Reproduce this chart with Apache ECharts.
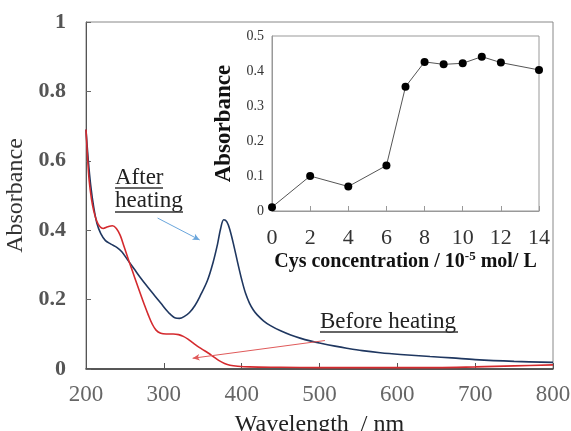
<!DOCTYPE html>
<html>
<head>
<meta charset="utf-8">
<script src="https://cdn.jsdelivr.net/npm/echarts@6/dist/echarts.min.js"></script>
<style>html,body{margin:0;padding:0;background:#fff;}#c{width:571px;height:431px;}</style>
</head>
<body>
<div id="c"></div>
<script>
// Main spectrum: After heating (blue)
var afterWl  = [200,203,206,210,214,219,225,232,240,246,253,262,270,279,288,296,306,315,320,326,333,340,347,356,363,369,373,377,381,385,390,395,400,405,410,415,420,428,437,450,463,475,488,500,520,535,555,578,604,642,670,700,750,800];
var afterAbs = [0.69,0.60,0.53,0.465,0.42,0.39,0.37,0.36,0.35,0.338,0.316,0.288,0.263,0.237,0.212,0.19,0.163,0.147,0.146,0.151,0.163,0.183,0.212,0.255,0.305,0.36,0.405,0.43,0.424,0.40,0.355,0.305,0.258,0.218,0.19,0.17,0.156,0.139,0.125,0.11,0.098,0.089,0.081,0.075,0.066,0.06,0.053,0.047,0.042,0.036,0.032,0.027,0.022,0.019];
// Main spectrum: Before heating (red)
var beforeWl  = [200,202,204,207,210,214,218,222,228,234,239,244,249,255,260,265,270,275,280,285,290,296,303,312,319,325,331,337,343,350,357,364,371,378,385,395,410,450,500,600,650,700,750,800];
var beforeAbs = [0.69,0.61,0.545,0.49,0.455,0.425,0.41,0.405,0.41,0.413,0.405,0.385,0.352,0.312,0.28,0.248,0.216,0.185,0.156,0.13,0.112,0.103,0.101,0.101,0.099,0.094,0.086,0.076,0.066,0.056,0.046,0.035,0.024,0.016,0.011,0.008,0.006,0.005,0.004,0.004,0.004,0.006,0.009,0.012];
// Inset: absorbance vs Cys concentration
var cysConc = [0,2,4,6,7,8,9,10,11,12,14];
var cysAbs  = [0.011,0.10,0.07,0.13,0.355,0.426,0.419,0.422,0.441,0.424,0.403];
// Annotation arrow end points (data coords)
var blueArrow = [[292,0.435],[346,0.372]];
var redArrow  = [[507,0.082],[337,0.031]];

function pairs(xs, ys){ return xs.map(function(x,i){ return [x, ys[i]]; }); }

var serif = '"Liberation Serif","Times New Roman",serif';
var chart = echarts.init(document.getElementById('c'), null, {renderer:'canvas'});
chart.setOption({
  animation:false,
  backgroundColor:'#fff',
  grid:[
    {left:86, top:22, width:467, height:347, show:true, borderColor:'#888', borderWidth:1, containLabel:false, outerBoundsMode:'none'},
    {left:272, top:36, width:267, height:175, show:true, borderColor:'#999', borderWidth:1, containLabel:false, outerBoundsMode:'none'}
  ],
  xAxis:[
    {type:'value', gridIndex:0, min:200, max:800, interval:100,
     name:'Wavelength  / nm', nameLocation:'middle', nameGap:44,
     nameTextStyle:{fontFamily:serif, fontSize:24, color:'#222'},
     axisLine:{lineStyle:{color:'#333', width:1.5}},
     axisTick:{inside:true, length:6, lineStyle:{color:'#555'}},
     axisLabel:{fontFamily:serif, fontSize:23, color:'#666', margin:14},
     splitLine:{show:false}},
    {type:'value', gridIndex:1, min:0, max:14, interval:2,
     name:'{b|Cys concentration / 10}{s|-5}{b| mol/ L}', nameLocation:'middle', nameGap:36,
     nameTextStyle:{rich:{
        b:{fontFamily:serif, fontSize:20, fontWeight:'bold', color:'#111', lineHeight:24},
        s:{fontFamily:serif, fontSize:13, fontWeight:'bold', color:'#111', verticalAlign:'top', lineHeight:24}
     }},
     axisLine:{lineStyle:{color:'#999'}},
     axisTick:{inside:true, length:5, lineStyle:{color:'#999'}},
     axisLabel:{fontFamily:serif, fontSize:22, color:'#333', margin:16},
     splitLine:{show:false}}
  ],
  yAxis:[
    {type:'value', gridIndex:0, min:0, max:1, interval:0.2,
     name:'Absorbance', nameLocation:'middle', nameGap:52, nameRotate:90,
     nameTextStyle:{fontFamily:serif, fontSize:24, color:'#333'},
     axisLine:{lineStyle:{color:'#555'}},
     axisTick:{inside:true, length:5, lineStyle:{color:'#666'}},
     axisLabel:{fontFamily:serif, fontSize:22, fontWeight:'bold', color:'#555', margin:20},
     splitLine:{show:false}},
    {type:'value', gridIndex:1, min:0, max:0.5, interval:0.1,
     name:'Absorbance', nameLocation:'middle', nameGap:36, nameRotate:90,
     nameTextStyle:{fontFamily:serif, fontSize:23, fontWeight:'bold', color:'#111'},
     axisLine:{lineStyle:{color:'#999'}},
     axisTick:{show:false},
     axisLabel:{fontFamily:serif, fontSize:14, color:'#333', margin:8},
     splitLine:{show:false}}
  ],
  series:[
    {type:'line', name:'After heating', xAxisIndex:0, yAxisIndex:0, data:pairs(afterWl, afterAbs),
     showSymbol:false, smooth:0.35, lineStyle:{color:'#1f3760', width:1.6},
     markLine:{silent:true, symbol:['none','arrow'], symbolSize:[5,7], label:{show:false},
       lineStyle:{color:'#6aa6dc', width:1, type:'solid'},
       data:[[{coord:blueArrow[0]},{coord:blueArrow[1]}]]}},
    {type:'line', name:'Before heating', xAxisIndex:0, yAxisIndex:0, data:pairs(beforeWl, beforeAbs),
     showSymbol:false, smooth:0.35, lineStyle:{color:'#d42a2e', width:1.6},
     markLine:{silent:true, symbol:['none','arrow'], symbolSize:[5,7], label:{show:false},
       lineStyle:{color:'#e05a5a', width:1, type:'solid'},
       data:[[{coord:redArrow[0]},{coord:redArrow[1]}]]}},
    {type:'line', name:'Inset', xAxisIndex:1, yAxisIndex:1, data:pairs(cysConc, cysAbs),
     symbol:'circle', symbolSize:8, itemStyle:{color:'#000'},
     lineStyle:{color:'#555', width:1}}
  ],
  graphic:[
    {type:'text', x:115, y:178, style:{text:'After', font:'23px ' + serif, fill:'#222', textVerticalAlign:'middle'}},
    {type:'line', shape:{x1:115, y1:188, x2:163, y2:188}, style:{stroke:'#333', lineWidth:1.5}},
    {type:'text', x:115, y:201, style:{text:'heating', font:'23px ' + serif, fill:'#222', textVerticalAlign:'middle'}},
    {type:'line', shape:{x1:115, y1:212, x2:183, y2:212}, style:{stroke:'#333', lineWidth:1.5}},
    {type:'text', x:320, y:322, style:{text:'Before heating', font:'23px ' + serif, fill:'#222', textVerticalAlign:'middle'}},
    {type:'line', shape:{x1:320, y1:332, x2:458, y2:332}, style:{stroke:'#333', lineWidth:1.5}}
  ]
});
</script>
</body>
</html>
